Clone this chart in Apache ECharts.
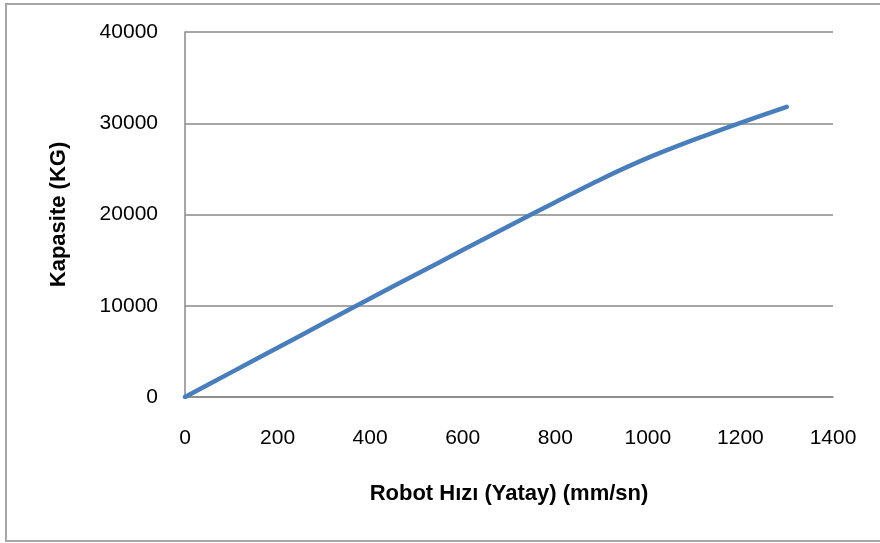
<!DOCTYPE html>
<html>
<head>
<meta charset="utf-8">
<style>
  html, body { margin: 0; padding: 0; background: #ffffff; }
  #chart { width: 880px; height: 543px; }
</style>
<script src="https://cdn.jsdelivr.net/npm/echarts@6/dist/echarts.min.js"></script>
</head>
<body>
<div id="chart"></div>
<script>
// Robot horizontal speed (mm/sn) versus carrying capacity (KG)
const speeds = [0, 100, 200, 300, 400, 500, 600, 700, 800, 900, 1000, 1100, 1200, 1300];
const capacities = [0, 2700, 5400, 8100, 10800, 13450, 16100, 18750, 21350, 23900, 26200, 28200, 30050, 31800];

const xTicks = [0, 200, 400, 600, 800, 1000, 1200, 1400];
const yTicks = [0, 10000, 20000, 30000, 40000];

const xTitle = 'Robot Hızı (Yatay) (mm/sn)';
const yTitle = 'Kapasite (KG)';

const points = speeds.map((s, i) => [s, capacities[i]]);

const chart = echarts.init(document.getElementById('chart'), null, { renderer: 'canvas' });

const labelFont = {
  fontFamily: 'Liberation Sans',
  fontSize: 21,
  color: '#000000'
};
const nameFont = {
  fontFamily: 'Liberation Sans',
  fontSize: 22,
  fontWeight: 'bold',
  color: '#000000'
};
const gridLine = { color: '#888888', width: 1.5 };
const plain = v => String(v);

chart.setOption({
  animation: false,
  backgroundColor: '#ffffff',
  graphic: [{
    type: 'rect',
    shape: { x: 6, y: 4, width: 880, height: 537 },
    style: { fill: 'none', stroke: '#a6a6a6', lineWidth: 2 },
    z: -1
  }],
  grid: { left: 185, right: 47, top: 32, bottom: 146 },
  xAxis: {
    type: 'value',
    min: xTicks[0],
    max: xTicks[xTicks.length - 1],
    interval: xTicks[1] - xTicks[0],
    name: xTitle,
    nameLocation: 'middle',
    nameGap: 86,
    nameTextStyle: nameFont,
    axisLine: { show: true, lineStyle: gridLine },
    axisTick: { show: false },
    axisLabel: Object.assign({ margin: 31, formatter: plain }, labelFont),
    splitLine: { show: false }
  },
  yAxis: {
    type: 'value',
    min: yTicks[0],
    max: yTicks[yTicks.length - 1],
    interval: yTicks[1] - yTicks[0],
    name: yTitle,
    nameLocation: 'middle',
    nameGap: 115,
    nameRotate: 90,
    nameTextStyle: nameFont,
    axisLine: { show: true, lineStyle: gridLine },
    axisTick: { show: false },
    axisLabel: Object.assign({ margin: 27, formatter: plain }, labelFont),
    splitLine: { show: true, lineStyle: gridLine }
  },
  series: [{
    type: 'line',
    data: points,
    smooth: 0.3,
    showSymbol: false,
    symbol: 'none',
    lineStyle: { color: '#4a7ebb', width: 4.5, cap: 'round', join: 'round' }
  }]
});
</script>
</body>
</html>
